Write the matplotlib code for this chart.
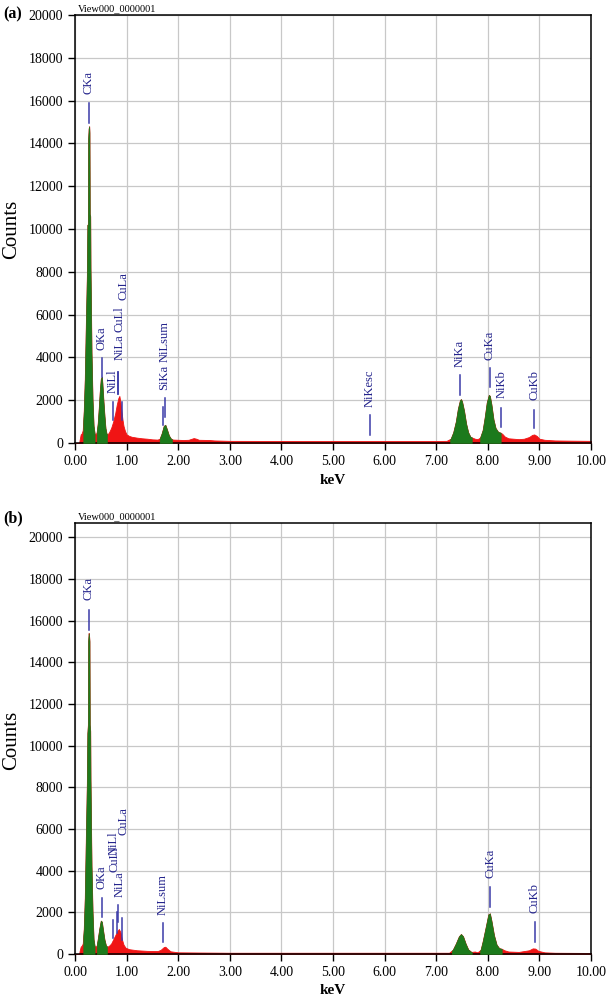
import matplotlib
matplotlib.use("Agg")
import matplotlib.pyplot as plt
import numpy as np

# ---------------- data ----------------
# Panel (a) spectrum: energy (keV) and counts
energy_a = [0.00, 0.08, 0.09, 0.11, 0.13, 0.15, 0.17, 0.19, 0.21, 0.23, 0.24, 0.25,
            0.255, 0.265, 0.275, 0.28, 0.285, 0.295, 0.30, 0.31, 0.32, 0.34, 0.36,
            0.38, 0.40, 0.42, 0.44, 0.46, 0.48, 0.50, 0.52, 0.53, 0.55, 0.57, 0.59,
            0.61, 0.63, 0.66, 0.70, 0.74, 0.78, 0.81, 0.84, 0.86, 0.88, 0.90, 0.92,
            0.94, 0.97, 1.00, 1.05, 1.10, 1.20, 1.30, 1.40, 1.50, 1.60, 1.64, 1.68,
            1.72, 1.75, 1.78, 1.82, 1.86, 1.90, 2.00, 2.10, 2.20, 2.30, 2.35, 2.40,
            2.60, 2.70, 3.00, 4.00, 5.00, 6.00, 7.00, 7.20, 7.28, 7.33, 7.38, 7.42,
            7.46, 7.48, 7.50, 7.54, 7.58, 7.62, 7.66, 7.70, 7.75, 7.80, 7.85, 7.90,
            7.94, 7.98, 8.02, 8.04, 8.07, 8.11, 8.15, 8.20, 8.25, 8.28, 8.33, 8.40,
            8.50, 8.60, 8.70, 8.80, 8.86, 8.90, 8.95, 9.00, 9.10, 9.30, 9.60, 10.00]
counts_a = [0, 0, 150, 400, 450, 600, 1500, 3000, 5500, 7800, 10200, 10200,
            14200, 14700, 14800, 14500, 10700, 10600, 8200, 6200, 4200, 2000, 800,
            450, 400, 500, 900, 1600, 2400, 3000, 3100, 2800, 2000, 1300, 700,
            450, 400, 500, 700, 1000, 1400, 1800, 2100, 2200, 1900, 1500, 1100,
            800, 550, 400, 330, 290, 250, 220, 200, 170, 160, 200, 450,
            800, 850, 650, 350, 200, 160, 150, 140, 150, 230, 200, 150,
            140, 120, 100, 95, 90, 90, 95, 100, 200, 500, 1000, 1600,
            2000, 2050, 1950, 1500, 900, 500, 300, 250, 200, 180, 250, 600,
            1200, 1900, 2250, 2200, 1800, 1100, 700, 520, 480, 430, 300, 220,
            200, 180, 200, 280, 380, 400, 330, 200, 150, 120, 110, 100]
green_a = [(0.16, 0.38), (0.42, 0.62), (1.64, 1.88), (7.27, 7.69), (7.85, 8.25)]

# Panel (b) spectrum
energy_b = [0.00, 0.08, 0.09, 0.11, 0.13, 0.15, 0.17, 0.19, 0.21, 0.23, 0.24, 0.25,
            0.255, 0.265, 0.275, 0.28, 0.285, 0.295, 0.30, 0.31, 0.32, 0.34, 0.36,
            0.38, 0.40, 0.42, 0.44, 0.47, 0.50, 0.52, 0.54, 0.57, 0.60, 0.63, 0.66,
            0.70, 0.74, 0.78, 0.82, 0.85, 0.88, 0.91, 0.94, 0.98, 1.05, 1.20, 1.40,
            1.60, 1.66, 1.72, 1.75, 1.79, 1.85, 2.00, 3.00, 4.00, 5.00, 6.00, 7.00,
            7.25, 7.32, 7.38, 7.44, 7.48, 7.52, 7.57, 7.62, 7.68, 7.75, 7.80, 7.86,
            7.90, 7.96, 8.01, 8.04, 8.07, 8.12, 8.17, 8.22, 8.27, 8.32, 8.40, 8.60,
            8.80, 8.87, 8.92, 8.98, 9.10, 9.30, 10.00]
counts_b = [0, 0, 150, 350, 400, 500, 1200, 2700, 5500, 8200, 10600, 11000,
            15000, 15400, 15200, 15000, 11000, 10700, 8400, 6200, 4200, 2000, 700,
            380, 350, 400, 700, 1200, 1600, 1550, 1200, 700, 400, 350, 400,
            500, 700, 900, 1100, 1200, 1050, 700, 450, 300, 230, 180, 150,
            140, 200, 330, 350, 250, 130, 80, 60, 60, 60, 60, 60,
            60, 200, 500, 850, 960, 850, 500, 220, 100, 120, 80, 200,
            600, 1300, 1900, 1950, 1600, 900, 450, 280, 250, 180, 120, 100,
            180, 270, 260, 150, 80, 60, 50]
green_b = [(0.16, 0.38), (0.42, 0.62), (7.30, 7.69), (7.85, 8.27)]

# Peak labels: name, marker energy, marker low, marker high, text energy, text base
labels_a = [("CKa", 0.27, 14950, 15890, 0.27, 16300),
            ("OKa", 0.52, 3080, 3970, 0.52, 4350),
            ("NiLl", 0.74, 1080, 1930, 0.73, 2340),
            ("NiLa", 0.83, 2300, 3300, 0.87, 3880),
            ("CuLl", 0.83, 2300, 3300, 0.87, 5190),
            ("CuLa", 0.92, 1080, 1930, 0.94, 6680),
            ("SiKa", 1.70, 840, 1700, 1.73, 2480),
            ("NiLsum", 1.74, 1230, 2100, 1.73, 3800),
            ("NiKesc", 5.72, 370, 1310, 5.72, 1700),
            ("NiKa", 7.46, 2240, 3180, 7.46, 3560),
            ("CuKa", 8.04, 2630, 3500, 8.04, 3880),
            ("NiKb", 8.26, 760, 1640, 8.26, 2100),
            ("CuKb", 8.90, 690, 1540, 8.90, 2000)]
labels_b = [("CKa", 0.27, 15540, 16500, 0.27, 16980),
            ("OKa", 0.52, 1790, 2690, 0.52, 3120),
            ("NiLl", 0.73, 770, 1630, 0.74, 4750),
            ("CuLl", 0.81, 1000, 2030, 0.76, 3950),
            ("NiLa", 0.84, 1550, 2350, 0.86, 2750),
            ("CuLa", 0.92, 670, 1730, 0.94, 5700),
            ("NiLsum", 1.70, 590, 1490, 1.70, 1870),
            ("CuKa", 8.05, 2270, 3230, 8.05, 3630),
            ("CuKb", 8.91, 590, 1550, 8.91, 1950)]

x_ticks = [0, 1, 2, 3, 4, 5, 6, 7, 8, 9, 10]
y_ticks = [0, 2000, 4000, 6000, 8000, 10000, 12000, 14000, 16000, 18000, 20000]
title_text = "View000_0000001"

# ---------------- style ----------------
W, H = 609, 1002
SERIF = ["Liberation Serif", "DejaVu Serif"]
RED = "#f01414"
GREEN = "#1c7a1c"
LABEL_C = "#23238c"
LINE_C = "#3a3aa8"

plt.rcParams["font.family"] = SERIF
fig = plt.figure(figsize=(W / 100, H / 100), dpi=100)


def px_ax(left, top, right, bottom):
    return fig.add_axes([left / W, 1 - bottom / H, (right - left) / W, (bottom - top) / H])


def draw_panel(ax, energy, counts, green, labels, ytop):
    e = np.asarray(energy, float)
    c = np.asarray(counts, float)
    ax.set_xlim(0, 10)
    ax.set_ylim(0, ytop)
    ax.grid(True, color="#c8c8c8", lw=0.9, zorder=0)
    ax.set_axisbelow(True)
    ax.fill_between(e, 0, c, color=RED, lw=0.6, edgecolor=RED, zorder=2)
    for lo, hi in green:
        m = (e >= lo) & (e <= hi)
        ee = np.concatenate(([lo], e[m], [hi]))
        cc = np.concatenate(([np.interp(lo, e, c)], c[m], [np.interp(hi, e, c)]))
        ax.fill_between(ee, 0, cc, color=GREEN, lw=0.4, edgecolor=GREEN, zorder=3)
    for name, xe, y0, y1, xt, yt in labels:
        ax.plot([xe, xe], [y0, y1], color=LINE_C, lw=1.1, zorder=4)
        ax.text(xt, yt, name, rotation=90, ha="center", va="bottom",
                color=LABEL_C, fontsize=9, zorder=5)
    ax.set_xticks(x_ticks)
    ax.set_xticklabels([f"{v:.2f}" for v in x_ticks])
    ax.set_yticks(y_ticks)
    ax.set_yticklabels([str(v) for v in y_ticks])
    ax.tick_params(direction="out", length=5, width=1, labelsize=10, pad=3.5,
                   colors="black")
    for s in ax.spines.values():
        s.set_color("black")
        s.set_linewidth(1.1)
    ax.text(0.005, 1.003, title_text, transform=ax.transAxes, ha="left", va="bottom",
            fontsize=7.5, color="black")


ax_a = px_ax(75, 15, 591, 443)
draw_panel(ax_a, energy_a, counts_a, green_a, labels_a, 20000)
ax_b = px_ax(75, 523, 591, 954)
draw_panel(ax_b, energy_b, counts_b, green_b, labels_b, 20680)

# axis titles and panel tags
for yc, yk, tag, ytag in [(229, 481, "(a)", 14), (740, 991, "(b)", 518)]:
    fig.text(12 / W, 1 - yc / H, "Counts", rotation=90, ha="center", va="center",
             fontsize=15, color="black")
    fig.text(333 / W, 1 - yk / H, "keV", ha="center", va="center",
             fontsize=11, fontweight="bold", color="black")
    fig.text(3 / W, 1 - ytag / H, tag, ha="left", va="center",
             fontsize=11.5, fontweight="bold", color="black")

fig.savefig("out.png", dpi=100)
